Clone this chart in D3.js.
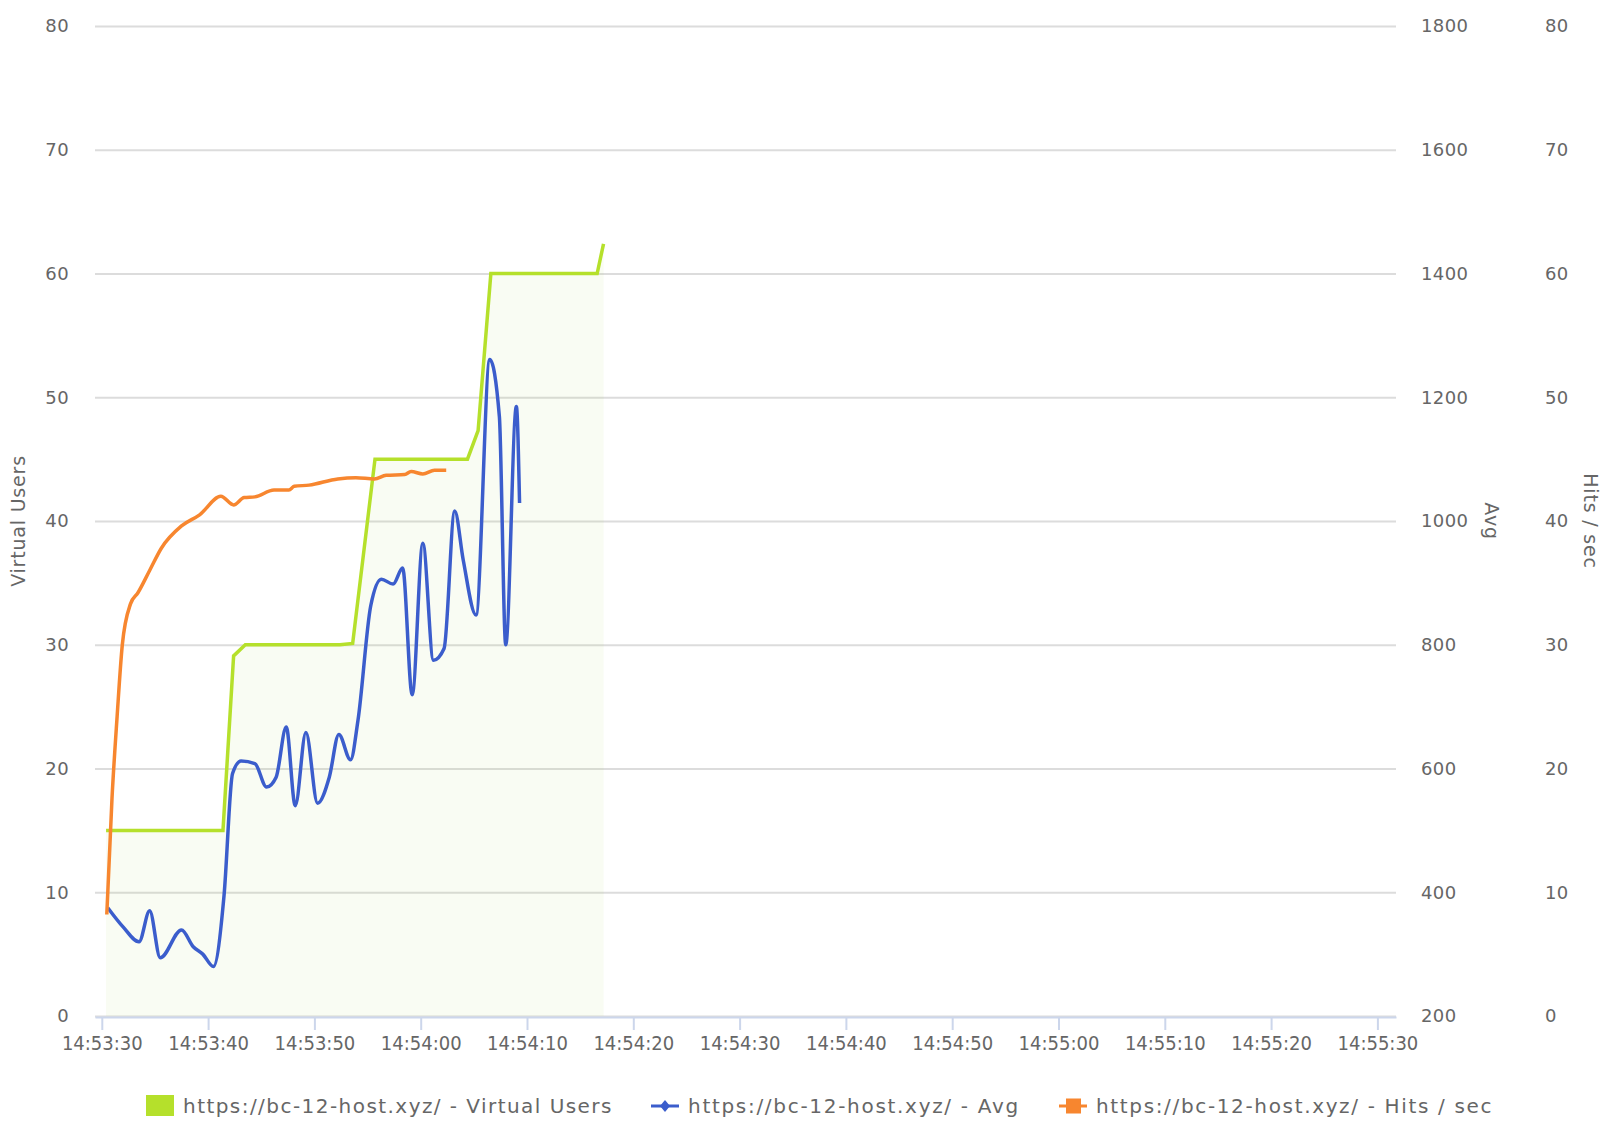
<!DOCTYPE html>
<html>
<head>
<meta charset="utf-8">
<script src="https://cdn.jsdelivr.net/npm/d3@7"></script>
<style>
  body { margin: 0; background: #fff; }
  text { font-family: "DejaVu Sans", sans-serif; fill: #666; }
</style>
</head>
<body>
<div id="chart"></div>
<script>
// all times are seconds after 14:53:30
const usersTime = [0.4, 11.4, 12.4, 13.5, 22.4, 23.6, 25.7, 34.4, 35.4, 36.6, 46.6, 47.2];
const usersValue = [15, 15, 29.1, 30, 30, 30.1, 45, 45, 47.3, 60, 60, 62.4];

const avgTime = [0.56, 2.0, 3.5, 4.5, 5.5, 7.5, 8.6, 9.5, 10.5, 11.5, 12.3, 13.1, 14.4, 15.5, 16.4,
  17.35, 18.2, 19.2, 20.3, 21.4, 22.3, 23.4, 24.1, 25.3, 26.3, 27.4, 28.3, 29.2, 30.2, 31.2,
  32.2, 33.2, 34.0, 35.2, 36.5, 37.4, 38.0, 39.0, 39.3];
const avgValue = [375, 344, 320, 370, 294, 339, 312, 300, 280, 395, 592, 612, 608, 570, 586,
  667, 540, 658, 544, 586, 655, 614, 678, 863, 906, 898, 924, 719, 964, 775,
  794, 1016, 937, 848, 1261, 1169, 800, 1185, 1029];

const hitsTime = [0.47, 0.96, 1.44, 1.93, 2.7, 3.4, 4.5, 5.6, 7.5, 9.2, 11.2, 12.4, 13.4, 14.4,
  16.2, 17.6, 18.1, 19.5, 22.2, 23.9, 25.65, 26.75, 28.5, 29.1, 30.2, 31.3, 32.4];
const hitsValue = [8.2, 17.6, 24.2, 30, 33.3, 34.2, 36, 37.8, 39.6, 40.5, 42, 41.3, 41.9, 41.95,
  42.5, 42.5, 42.8, 42.9, 43.4, 43.5, 43.4, 43.7, 43.75, 44.0, 43.8, 44.1, 44.1];

const usersTicks = [0, 10, 20, 30, 40, 50, 60, 70, 80];
const avgTicks = [200, 400, 600, 800, 1000, 1200, 1400, 1600, 1800];
const hitsTicks = [0, 10, 20, 30, 40, 50, 60, 70, 80];

const seriesNames = ['https://bc-12-host.xyz/ - Virtual Users', 'https://bc-12-host.xyz/ - Avg',
  'https://bc-12-host.xyz/ - Hits / sec'];
const seriesColors = ['#b5e02b', '#3b5dcc', '#f7862f'];

const start = new Date(2021, 0, 1, 14, 53, 30);
const at = s => new Date(start.getTime() + s * 1000);

const w = 1604, h = 1122;
const plot = { left: 95, right: 1396, top: 26, bottom: 1016 };

const svg = d3.select('#chart')
  .append('svg')
  .attr('width', w)
  .attr('height', h);

// scales
const x = d3.scaleTime()
  .domain([at(-0.64), at(121.75)])
  .range([plot.left, plot.right]);
const yUsers = d3.scaleLinear().domain([0, 80]).range([plot.bottom, plot.top]);
const yAvg = d3.scaleLinear().domain([200, 1800]).range([plot.bottom, plot.top]);
const yHits = d3.scaleLinear().domain([0, 80]).range([plot.bottom, plot.top]);

// left axis + grid
const gLeft = svg.append('g')
  .attr('transform', `translate(${plot.left},0)`)
  .call(d3.axisLeft(yUsers).tickValues(usersTicks)
    .tickSize(-(plot.right - plot.left)).tickPadding(26));
gLeft.select('.domain').remove();
gLeft.selectAll('.tick line').attr('stroke', '#dcdcdc').attr('stroke-width', 2);
gLeft.selectAll('.tick text').style('font-size', '18px').style('letter-spacing', '0.4px')
  .attr('fill', '#666');

// right axes
const gAvg = svg.append('g')
  .attr('transform', 'translate(1421,0)')
  .call(d3.axisRight(yAvg).tickValues(avgTicks).tickFormat(d3.format('d'))
    .tickSize(0).tickPadding(0));
const gHits = svg.append('g')
  .attr('transform', 'translate(1545,0)')
  .call(d3.axisRight(yHits).tickValues(hitsTicks).tickSize(0).tickPadding(0));
[gAvg, gHits].forEach(g => {
  g.select('.domain').remove();
  g.selectAll('.tick text').style('font-size', '18px').style('letter-spacing', '0.4px')
    .attr('fill', '#666');
});

// x axis
const gX = svg.append('g')
  .attr('transform', `translate(0,${plot.bottom + 1})`)
  .call(d3.axisBottom(x).ticks(d3.timeSecond.every(10))
    .tickFormat(d3.timeFormat('%H:%M:%S')).tickSize(13).tickSizeOuter(0).tickPadding(6));
gX.select('.domain').attr('stroke', '#ccd6eb').attr('stroke-width', 2);
gX.selectAll('.tick line').attr('stroke', '#ccd6eb').attr('stroke-width', 2);
gX.selectAll('.tick text')
  .style('font-family', '"DejaVu Sans Condensed", "DejaVu Sans", sans-serif')
  .style('font-stretch', 'condensed')
  .style('font-size', '20px')
  .attr('fill', '#666');

// axis titles
const titleStyle = sel => sel.style('font-size', '19px').style('letter-spacing', '0.8px')
  .attr('text-anchor', 'middle').attr('dominant-baseline', 'central');
svg.append('text').text('Virtual Users')
  .attr('transform', `translate(18,${(plot.top + plot.bottom) / 2}) rotate(-90)`).call(titleStyle);
svg.append('text').text('Avg')
  .attr('transform', `translate(1492,${(plot.top + plot.bottom) / 2}) rotate(90)`).call(titleStyle);
svg.append('text').text('Hits / sec')
  .attr('transform', `translate(1591,${(plot.top + plot.bottom) / 2}) rotate(90)`).call(titleStyle);

// virtual users area (light fill lets the grid show through)
const usersData = usersTime.map((t, i) => [at(t), usersValue[i]]);
svg.append('path')
  .datum(usersData)
  .attr('fill', '#9fd24a')
  .attr('fill-opacity', 0.065)
  .attr('d', d3.area().x(d => x(d[0])).y0(yUsers(0)).y1(d => yUsers(d[1])));
svg.append('path')
  .datum(usersData)
  .attr('fill', 'none')
  .attr('stroke', seriesColors[0])
  .attr('stroke-width', 3.5)
  .attr('d', d3.line().x(d => x(d[0])).y(d => yUsers(d[1])));

// avg spline
const avgData = avgTime.map((t, i) => [at(t), avgValue[i]]);
svg.append('path')
  .datum(avgData)
  .attr('fill', 'none')
  .attr('stroke', seriesColors[1])
  .attr('stroke-width', 3.5)
  .attr('d', d3.line().curve(d3.curveMonotoneX).x(d => x(d[0])).y(d => yAvg(d[1])));

// hits spline
const hitsData = hitsTime.map((t, i) => [at(t), hitsValue[i]]);
svg.append('path')
  .datum(hitsData)
  .attr('fill', 'none')
  .attr('stroke', seriesColors[2])
  .attr('stroke-width', 3.5)
  .attr('d', d3.line().curve(d3.curveMonotoneX).x(d => x(d[0])).y(d => yHits(d[1])));

// legend
const legendX = [146, 651, 1059];
const legendSpacing = [1.45, 1.7, 1.65];
const legendY = 1106;
const legend = svg.append('g');
legendX.forEach((lx, i) => {
  const item = legend.append('g').attr('transform', `translate(${lx},${legendY})`);
  if (i === 0) {
    item.append('rect').attr('x', 0).attr('y', -11).attr('width', 28).attr('height', 21)
      .attr('fill', seriesColors[0]);
  } else {
    item.append('line').attr('x1', 0).attr('x2', 28).attr('y1', 0).attr('y2', 0)
      .attr('stroke', seriesColors[i]).attr('stroke-width', 3);
    if (i === 1) {
      item.append('path').attr('d', 'M14,-6L19,0L14,6L9,0Z').attr('fill', seriesColors[i]);
    } else {
      item.append('rect').attr('x', 7).attr('y', -7.5).attr('width', 15).attr('height', 15)
        .attr('fill', seriesColors[i]);
    }
  }
  item.append('text')
    .text(seriesNames[i])
    .attr('x', 37)
    .attr('y', 0)
    .attr('dominant-baseline', 'central')
    .style('font-size', '20px')
    .style('letter-spacing', `${legendSpacing[i]}px`)
    .attr('fill', '#555');
});
</script>
</body>
</html>
